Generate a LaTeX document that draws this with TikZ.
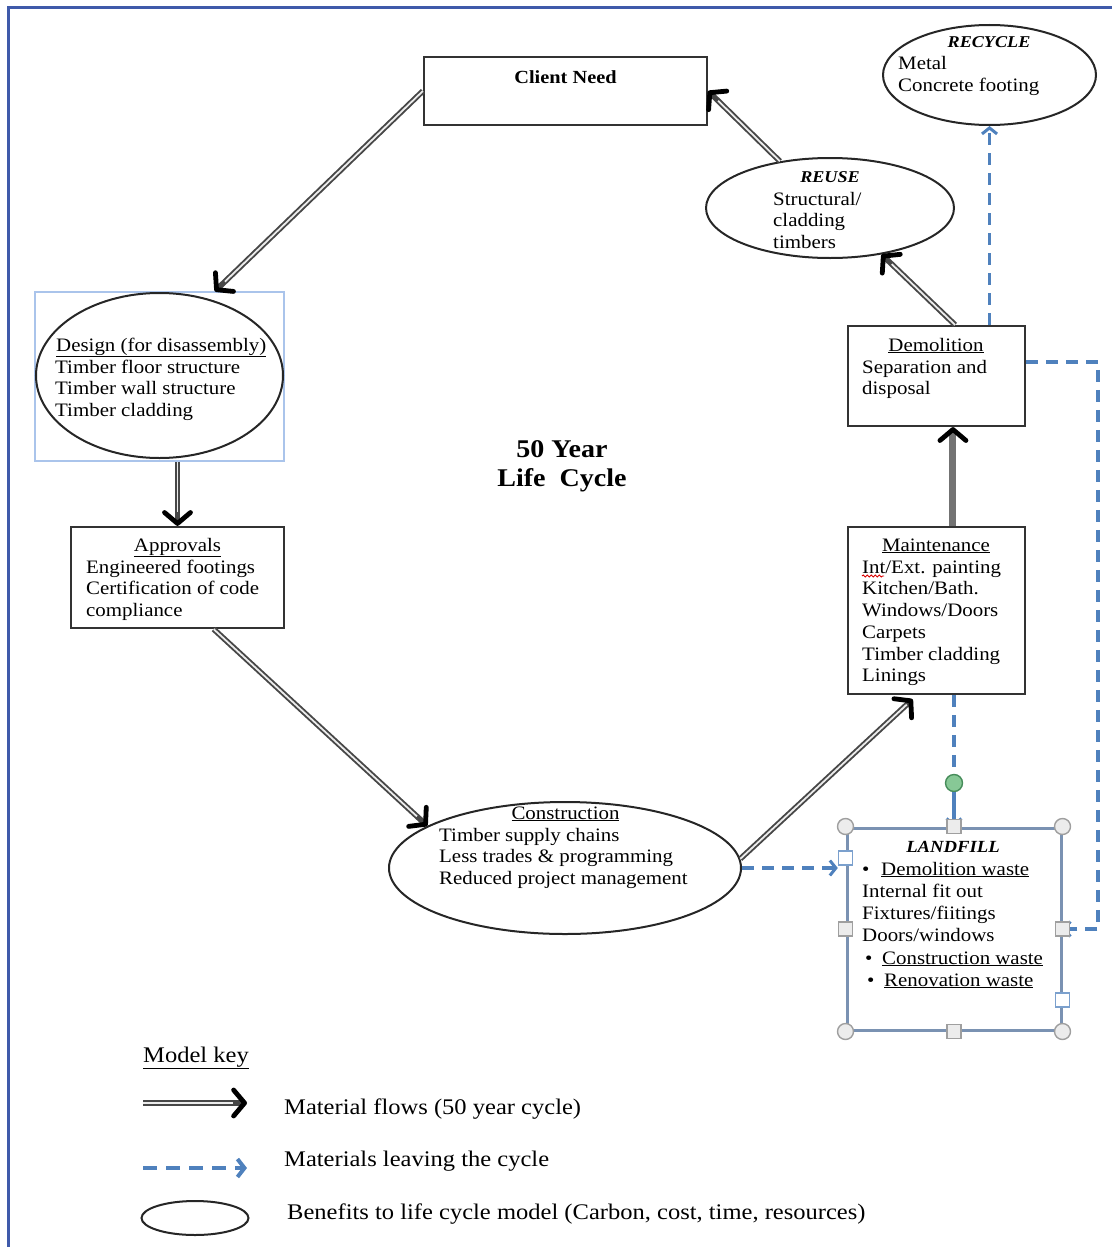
\documentclass[tikz,border=0pt]{standalone}
\usepackage{fontspec}
\setmainfont{Liberation Serif}[FakeStretch=1.1]
\usetikzlibrary{arrows.meta,shapes.geometric,calc,decorations.pathmorphing}

\definecolor{frameblue}{RGB}{63,90,170}
\definecolor{leaveblue}{RGB}{79,129,189}
\definecolor{selblue}{RGB}{170,196,235}
\definecolor{lfborder}{RGB}{122,146,178}
\definecolor{handlegray}{RGB}{236,236,236}
\definecolor{hookfill}{RGB}{135,200,150}
\definecolor{hookdraw}{RGB}{70,140,90}

\begin{document}
\begin{tikzpicture}[x=1pt,y=-1pt,
  box/.style={draw=black!80, line width=2.2pt, rectangle, inner sep=0},
  oval/.style={draw=black!85, line width=2pt, ellipse, inner sep=0},
  body/.style={anchor=base west, inner sep=0, font=\fontsize{19}{22}\selectfont},
  title/.style={anchor=base, inner sep=0, font=\fontsize{19}{22}\selectfont},
  tag/.style={anchor=base, inner sep=0, font=\fontsize{16.5}{20}\selectfont\bfseries\itshape},
  keytext/.style={anchor=base west, inner sep=0, font=\fontsize{22.3}{26}\selectfont},
  flowtip/.style={-{Straight Barb[length=11pt,width=26pt,line width=4.8pt,black,round]}},
  flow/.style={draw=black!72, line width=5.6pt, flowtip,
    postaction={draw=gray!15, line width=1.8pt, -, shorten >=14pt}},
  heavyflow/.style={draw=black!55, line width=7pt, flowtip},
  leave/.style={draw=leaveblue, line width=3.4pt, dash pattern=on 12pt off 8pt,
    -{Straight Barb[length=6pt,width=15pt,line width=3pt]}},
  cornerhandle/.style={circle, draw=gray!75, fill=handlegray, line width=1.4pt, minimum size=16pt, inner sep=0},
  midhandle/.style={rectangle, draw=gray!75, fill=handlegray, line width=1.4pt, minimum size=14pt, inner sep=0},
  porthandle/.style={rectangle, draw=leaveblue!75, fill=white, line width=1.4pt, minimum size=14pt, inner sep=0},
  hookhandle/.style={circle, draw=hookdraw, fill=hookfill, line width=1.4pt, minimum size=17pt, inner sep=0}
]
\useasboundingbox (0,0) rectangle (1112,1247);

% page frame (top and left edges)
\draw[frameblue, line width=3pt] (8,1247) -- (8,8) -- (1112,8);

% ---- stages of the cycle ----
\node[box, minimum width=283pt, minimum height=68pt] (client) at (565.5,91) {};
\node[oval, minimum width=213pt, minimum height=100pt] (recycle) at (989.5,75) {};
\node[oval, minimum width=248pt, minimum height=100pt] (reuse) at (830,208) {};
\node[draw=selblue, line width=1.3pt, rectangle, inner sep=0,
      minimum width=249pt, minimum height=169pt] (designframe) at (159.5,376.5) {};
\node[oval, minimum width=247pt, minimum height=165pt] (design) at (159.5,375.5) {};
\node[box, minimum width=213pt, minimum height=101pt] (approvals) at (177.5,577.5) {};
\node[box, minimum width=177pt, minimum height=100pt] (demolition) at (936.5,376) {};
\node[box, minimum width=177pt, minimum height=167pt] (maintenance) at (936.5,610.5) {};
\node[oval, minimum width=352pt, minimum height=132pt] (construction) at (565,868) {};
\node[draw=lfborder, line width=3pt, rectangle, inner sep=0,
      minimum width=214pt, minimum height=202pt] (landfill) at (954,929) {};

% ---- texts ----
\node[title, font=\fontsize{18.5}{22}\selectfont\bfseries] (client-t) at (565.5,83) {Client Need};

\node[tag] (recycle-t) at (989,48) {RECYCLE};
\foreach \t [count=\i] in {Metal, Concrete footing}
  \node[body] (recycle-l\i) at (898,{70+22*(\i-1)}) {\t};

\node[tag] (reuse-t) at (830,182) {REUSE};
\foreach \t [count=\i] in {Structural/, cladding, timbers}
  \node[body] (reuse-l\i) at (773,{205+21.7*(\i-1)}) {\t};

\node[body] (design-t) at (56,351) {\underline{Design (for disassembly)}};
\foreach \t [count=\i] in {Timber floor structure, Timber wall structure, Timber cladding}
  \node[body] (design-l\i) at (55,{373+21.7*(\i-1)}) {\t};

\node[title] (approvals-t) at (177.5,551) {\underline{Approvals}};
\foreach \t [count=\i] in {Engineered footings, Certification of code, compliance}
  \node[body] (approvals-l\i) at (86,{573+21.7*(\i-1)}) {\t};

\node[title] (demolition-t) at (936,351) {\underline{Demolition}};
\foreach \t [count=\i] in {Separation and, disposal}
  \node[body] (demolition-l\i) at (862,{373+21.7*(\i-1)}) {\t};

\node[title] (maintenance-t) at (936,551) {\underline{Maintenance}};
\foreach \t [count=\i] in {Int/Ext. painting, Kitchen/Bath., Windows/Doors, Carpets, Timber cladding, Linings}
  \node[body] (maintenance-l\i) at (862,{573+21.75*(\i-1)}) {\t};
% spelling mark under "Int"
\draw[red!85!black, line width=0.9pt, decorate, decoration={snake, amplitude=1pt, segment length=4pt}]
  ($(maintenance-l1.base west)+(0,3)$) -- ++(22,0);

\node[title] (construction-t) at (565.5,819) {\underline{Construction}};
\foreach \t [count=\i] in {Timber supply chains, Less trades \& programming, Reduced project management}
  \node[body] (construction-l\i) at (439,{841+21.7*(\i-1)}) {\t};

\node[tag, font=\fontsize{17}{20}\selectfont\bfseries\itshape] (landfill-t) at (953,852) {LANDFILL};
\node[body] (landfill-b1) at (862,875) {\textbullet};
\node[body] (landfill-l1) at (881,875) {\underline{Demolition waste}};
\node[body] (landfill-l2) at (862,897) {Internal fit out};
\node[body] (landfill-l3) at (862,919.5) {Fixtures/fiitings};
\node[body] (landfill-l4) at (862,941.5) {Doors/windows};
\node[body] (landfill-b2) at (865,964) {\textbullet};
\node[body] (landfill-l5) at (882,964) {\underline{Construction waste}};
\node[body] (landfill-b3) at (867,986) {\textbullet};
\node[body] (landfill-l6) at (884,986) {\underline{Renovation waste}};

\node[anchor=base, inner sep=0, font=\fontsize{25.5}{30}\selectfont\bfseries] (cycle-a) at (562,457) {50 Year};
\node[anchor=base, inner sep=0, font=\fontsize{25.5}{30}\selectfont\bfseries] (cycle-b) at (562,486) {Life\ \ Cycle};

% ---- landfill selection handles ----
\node[porthandle] (lf-port-w) at ([yshift=71pt]landfill.west) {};
\node[porthandle] (lf-port-e) at ([yshift=-71pt]landfill.east) {};
\node[hookhandle] (hook) at (954,783) {};

% ---- material flows ----
\draw[flow] (client.west) -- (designframe.57);
\draw[flow] (designframe.south -| approvals.north) -- (approvals.north);
\draw[flow] (approvals.305) -- (construction.163);
\draw[flow, shorten >=6pt] (construction.3) -- (maintenance.257.5);
\draw[heavyflow] (maintenance.79) -- (maintenance.79 |- demolition.south);
\draw[flow] (demolition.70) -- (reuse.-42);
\draw[flow] (reuse.137) -- (client.east);

% ---- materials leaving the cycle ----
\draw[leave] (recycle.south |- demolition.north) -- (recycle.south);
\draw[leave] (demolition.9) -- ++(72,0) |- (landfill.east);
\draw[leave, -] (maintenance.south -| landfill.north) -- (hook);
\draw[leave, solid] (hook) -- (landfill.north);
\draw[leave] (construction.east) -- (construction.east -| lf-port-w.west);

\foreach \a [count=\i] in {north west, north east, south west, south east}
  \node[cornerhandle] (lf-corner\i) at (landfill.\a) {};
\foreach \a [count=\i] in {north, south, west, east}
  \node[midhandle] (lf-mid\i) at (landfill.\a) {};

% ---- model key ----
\node[keytext] (key-title) at (143,1062) {\underline{Model key}};
\coordinate (key-a1) at (143,1103);
\coordinate (key-a2) at (247,1103);
\draw[flow] (key-a1) -- (key-a2);
\node[keytext] (key-flow) at (284,1114) {Material flows (50 year cycle)};
\coordinate (key-d1) at (143,1168);
\coordinate (key-d2) at (247,1168);
\draw[leave, dash pattern=on 14pt off 9pt, -{Straight Barb[length=7pt,width=18pt,line width=4pt]}] (key-d1) -- (key-d2);
\node[keytext] (key-leave) at (284,1166) {Materials leaving the cycle};
\node[oval, minimum width=107pt, minimum height=34pt] (key-oval) at (195,1218) {};
\node[keytext] (key-oval-t) at (287,1219) {Benefits to life cycle model (Carbon, cost, time, resources)};
\end{tikzpicture}
\end{document}
